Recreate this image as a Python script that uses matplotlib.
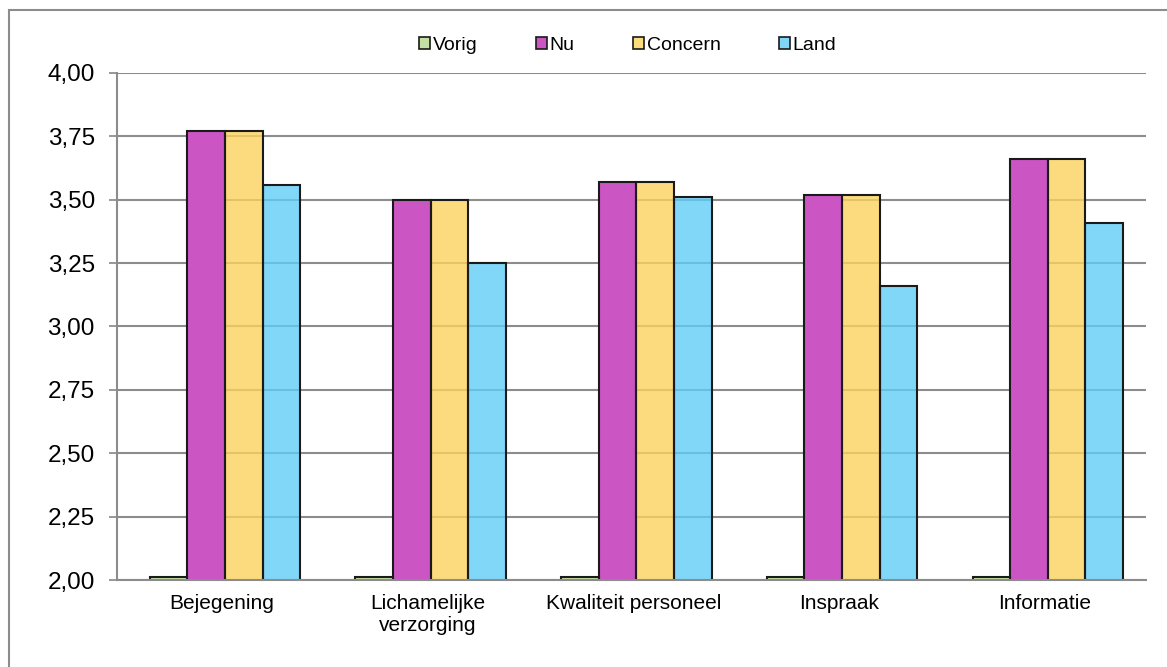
import matplotlib.pyplot as plt
import numpy as np
from matplotlib.patches import Rectangle

plt.rcParams['font.family'] = ['Liberation Sans', 'DejaVu Sans']

# -------------------------------
# data
# -------------------------------
categories = ['Bejegening', 'Lichamelijke\nverzorging', 'Kwaliteit personeel', 'Inspraak', 'Informatie']
series_names = ['Vorig', 'Nu', 'Concern', 'Land']
vorig = [2.01, 2.01, 2.01, 2.01, 2.01]
nu = [3.77, 3.50, 3.57, 3.52, 3.66]
concern = [3.77, 3.50, 3.57, 3.52, 3.66]
land = [3.56, 3.25, 3.51, 3.16, 3.41]
y_ticks = [2.00, 2.25, 2.50, 2.75, 3.00, 3.25, 3.50, 3.75, 4.00]

colors = ['#C4E0A2', '#CC55C4', '#FCD35E', '#60CDF5']
alphas = [1.0, 1.0, 0.8, 0.8]
legend_colors = ['#C4E0A2', '#CC55C4', '#FDDC7E', '#80D6F7']

fig = plt.figure(figsize=(11.67, 6.67), dpi=100)
ax = fig.add_axes([0.1003, 0.1304, 0.8815, 0.7602])

# outer chart frame
fig.patches.append(Rectangle((9 / 1167, -0.1), 1.2, 1 - 10 / 667 + 0.1, transform=fig.transFigure,
                             fill=False, edgecolor='#8c8c8c', linewidth=1.5, zorder=0))

x = np.arange(len(categories))
w = 0.183
shift = 0.024
all_vals = [vorig, nu, concern, land]
for i, (vals, c, a) in enumerate(zip(all_vals, colors, alphas)):
    ax.bar(x + shift + (i - 1.5) * w, vals, width=w, color=c, alpha=a,
           edgecolor='none', zorder=3)
    ax.bar(x + shift + (i - 1.5) * w, vals, width=w, fill=False,
           edgecolor='#1a1a1a', linewidth=1.5, zorder=4)

ax.set_ylim(2.0, 4.0)
ax.set_xlim(-0.5, len(categories) - 0.5)
ax.set_yticks(y_ticks)
ax.set_yticklabels([f'{v:.2f}'.replace('.', ',') for v in y_ticks], fontsize=17.5)
ax.set_xticks(x + 0.01)
ax.set_xticklabels(categories, fontsize=15)
ax.tick_params(axis='x', length=0, pad=10)
ax.tick_params(axis='y', length=6, color='#868686', width=1.2, pad=10)

ax.grid(True, axis='y', color='#8c8c8c', linewidth=1.5, zorder=1)
ax.set_axisbelow(True)
for s in ['top', 'right']:
    ax.spines[s].set_visible(False)
for s in ['left', 'bottom']:
    ax.spines[s].set_color('#8c8c8c')
    ax.spines[s].set_linewidth(1.5)
    ax.spines[s].set_zorder(5)

handles = [Rectangle((0, 0), 1, 1, facecolor=c, edgecolor='#1a1a1a', linewidth=1.2)
           for c in legend_colors]
fig.legend(handles, series_names, loc='center', bbox_to_anchor=(0.538, 0.932), ncol=4,
           frameon=False, fontsize=14, handlelength=0.55, handleheight=0.55,
           handletextpad=0.15, columnspacing=3.0)

plt.savefig('out.png', dpi=100)
